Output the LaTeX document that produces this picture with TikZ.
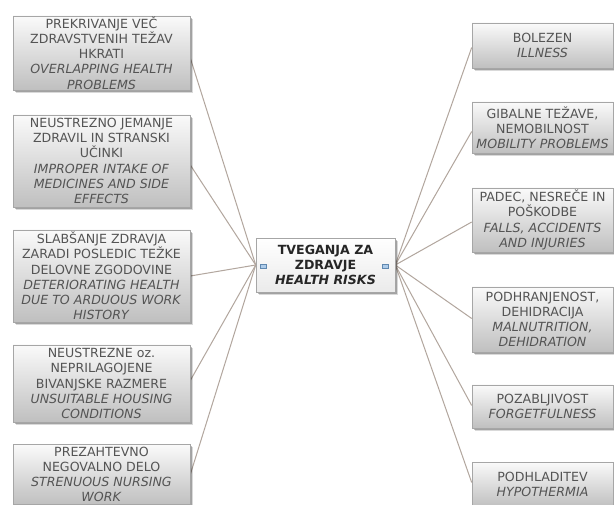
\documentclass[tikz,border=0pt]{standalone}
\usepackage{fontspec}
\setmainfont{DejaVu Sans}
\usetikzlibrary{shadows}
\pgfdeclarelayer{bg}
\pgfdeclarelayer{lines}
\pgfsetlayers{bg,lines,main}
\definecolor{linkc}{RGB}{178,166,158}
\definecolor{txtc}{RGB}{84,84,84}
\definecolor{iconc}{RGB}{120,170,220}
\tikzset{
  shade2/.style={general shadow={shadow xshift=2.5pt, shadow yshift=-3pt, fill=black, opacity=0.15},
                 general shadow={shadow xshift=1.5pt, shadow yshift=-2pt, fill=black, opacity=0.25}},
  topic/.style={draw=black!35, line width=0.6pt, top color=black!2, bottom color=black!25,
    shade2, font=\fontsize{12.6}{15.2}\selectfont, text=txtc, align=center, inner sep=0pt},
  lbox/.style={topic, minimum width=177pt},
  rbox/.style={topic, minimum width=141pt},
  centre/.style={draw=black!35, line width=0.6pt, top color=white, bottom color=black!8,
    shade2, font=\bfseries\fontsize{12.6}{15.4}\selectfont, text=black!85, align=center, inner sep=0pt,
    minimum width=139pt, minimum height=54pt},
  icon/.style={draw=iconc!80!black, fill=iconc!60, line width=0.4pt, minimum width=5.5pt, minimum height=4.5pt, inner sep=0pt},
  link/.style={draw=linkc, line width=1pt}
}
\begin{document}
\begin{tikzpicture}[x=1pt,y=-1pt]
\useasboundingbox (0,0) rectangle (614,505);
\clip (0,0) rectangle (614,505);
\begin{pgfonlayer}{bg}
\fill[white] (0,0) rectangle (614,505);
\end{pgfonlayer}

% centre
\node[centre] (c) at (325.5,265) {TVEGANJA ZA\\ZDRAVJE\\\textit{HEALTH RISKS}};
\node[icon] (il) at (263,266) {};
\node[icon] (ir) at (385,266) {};

% left boxes
\node[lbox, minimum height=74pt] (l1) at (101.5,53) {PREKRIVANJE VEČ\\ZDRAVSTVENIH TEŽAV\\HKRATI\\\textit{OVERLAPPING HEALTH}\\\textit{PROBLEMS}};
\node[lbox, minimum height=92pt] (l2) at (101.5,161) {NEUSTREZNO JEMANJE\\ZDRAVIL IN STRANSKI\\UČINKI\\\textit{IMPROPER INTAKE OF}\\\textit{MEDICINES AND SIDE}\\\textit{EFFECTS}};
\node[lbox, minimum height=92pt] (l3) at (101.5,276) {SLABŠANJE ZDRAVJA\\ZARADI POSLEDIC TEŽKE\\DELOVNE ZGODOVINE\\\textit{DETERIORATING HEALTH}\\\textit{DUE TO ARDUOUS WORK}\\\textit{HISTORY}};
\node[lbox, minimum height=77pt] (l4) at (101.5,383.5) {NEUSTREZNE oz.\\NEPRILAGOJENE\\BIVANJSKE RAZMERE\\\textit{UNSUITABLE HOUSING}\\\textit{CONDITIONS}};
\node[lbox, minimum height=60pt, font=\fontsize{12.6}{15}\selectfont] (l5) at (101.5,474.5) {PREZAHTEVNO\\NEGOVALNO DELO\\\textit{STRENUOUS NURSING}\\\textit{WORK}};

% right boxes
\node[rbox, minimum height=45pt] (r1) at (542.5,45.5) {BOLEZEN\\\textit{ILLNESS}};
\node[rbox, minimum height=51pt] (r2) at (542.5,127.5) {GIBALNE TEŽAVE,\\NEMOBILNOST\\\textit{MOBILITY PROBLEMS}};
\node[rbox, minimum height=64pt] (r3) at (542.5,220) {PADEC, NESREČE IN\\POŠKODBE\\\textit{FALLS, ACCIDENTS}\\\textit{AND INJURIES}};
\node[rbox, minimum height=65pt] (r4) at (542.5,319.5) {PODHRANJENOST,\\DEHIDRACIJA\\\textit{MALNUTRITION,}\\\textit{DEHIDRATION}};
\node[rbox, minimum height=43pt] (r5) at (542.5,406.5) {POZABLJIVOST\\\textit{FORGETFULNESS}};
\node[rbox, minimum height=45pt] (r6) at (542.5,484.5) {PODHLADITEV\\\textit{HYPOTHERMIA}};

\begin{pgfonlayer}{lines}
\draw[link] (c.west) -- ([yshift=-5pt]l1.east);
\draw[link] (c.west) -- ([yshift=-4pt]l2.east);
\draw[link] (c.west) -- (l3.east);
\draw[link] (c.west) -- ([yshift=3pt]l4.east);
\draw[link] (c.west) -- (l5.east);
\draw[link] (c.east) -- ([yshift=-2pt]r1.west);
\draw[link] (c.east) -- ([yshift=-4pt]r2.west);
\draw[link] (c.east) -- ([yshift=-2pt]r3.west);
\draw[link] (c.east) -- ([yshift=1pt]r4.west);
\draw[link] (c.east) -- ([yshift=1pt]r5.west);
\draw[link] (c.east) -- ([yshift=2pt]r6.west);
\end{pgfonlayer}
\end{tikzpicture}
\end{document}
